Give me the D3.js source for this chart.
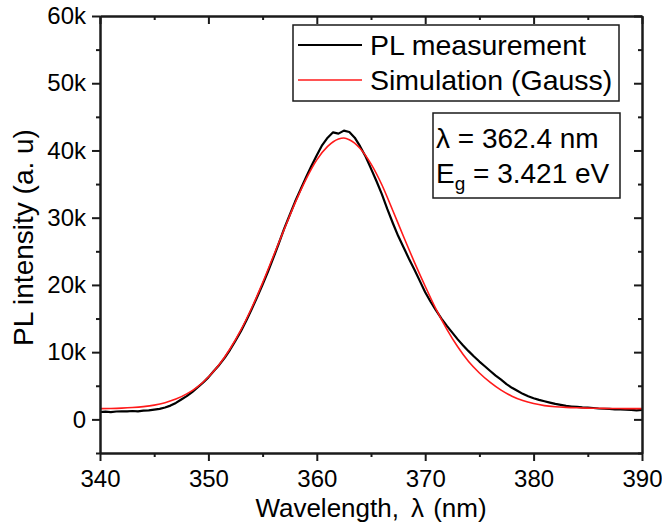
<!DOCTYPE html>
<html>
<head>
<meta charset="utf-8">
<script src="https://cdn.jsdelivr.net/npm/d3@7"></script>
<style>
  body { margin: 0; background: #fff; }
  text { font-family: "Liberation Sans", Arial, sans-serif; fill: #000; }
</style>
</head>
<body>
<script>
// measured PL spectrum (wavelength in nm, intensity in counts)
var measWavelength = [340, 340.5, 341, 341.5, 342, 342.5, 343, 343.5, 344, 344.5,
  345, 345.5, 346, 346.5, 347, 347.5, 348, 348.5, 349, 349.5,
  350, 350.5, 351, 351.5, 352, 352.5, 353, 353.5, 354, 354.5,
  355, 355.5, 356, 356.5, 357, 357.5, 358, 358.5, 359, 359.5,
  360, 360.5, 361, 361.5, 362, 362.5, 363, 363.5, 364, 364.5,
  365, 365.5, 366, 366.5, 367, 367.5, 368, 368.5, 369, 369.5,
  370, 370.5, 371, 371.5, 372, 372.5, 373, 373.5, 374, 374.5,
  375, 375.5, 376, 376.5, 377, 377.5, 378, 378.5, 379, 379.5,
  380, 380.5, 381, 381.5, 382, 382.5, 383, 383.5, 384, 384.5,
  385, 385.5, 386, 386.5, 387, 387.5, 388, 388.5, 389, 389.5, 390];
var measIntensity = [1100, 1150, 1080, 1170, 1210, 1180, 1250, 1200, 1290, 1340,
  1450, 1560, 1760, 2050, 2450, 2950, 3450, 4050, 4750, 5450,
  6250, 7200, 8100, 9150, 10350, 11700, 13100, 14700, 16400, 18200,
  20050, 22000, 24050, 26200, 28400, 30400, 32400, 34200, 36000, 37700,
  39300, 40800, 41900, 42700, 42500, 42950, 42750, 41900, 40600, 39100,
  37300, 35450, 33500, 31300, 29250, 27300, 25600, 23900, 22300, 20600,
  18900, 17500, 16200, 15000, 13900, 12900, 11900, 11000, 10150, 9350,
  8600, 7900, 7200, 6500, 5900, 5250, 4700, 4250, 3800, 3450,
  3150, 2900, 2700, 2500, 2300, 2150, 2000, 1920, 1850, 1780,
  1740, 1690, 1620, 1580, 1550, 1500, 1480, 1450, 1420, 1350, 1400];

// Gauss simulation
var simWavelength = [340, 341, 342, 343, 344, 345, 346, 347, 348, 349,
  350, 351, 352, 353, 354, 355, 356, 357, 358, 359,
  360, 361, 362, 362.5, 363, 364, 365, 366, 367, 368, 369,
  370, 371, 372, 373, 374, 375, 376, 377, 378, 379,
  380, 381, 382, 383, 384, 385, 386, 387, 388, 389, 390];
var simIntensity = [1600, 1620, 1670, 1760, 1900, 2120, 2480, 3020, 3800, 4850,
  6300, 8150, 10500, 13300, 16600, 20300, 24300, 28300, 32200, 35700,
  38600, 40600, 41700, 41850, 41600, 40300, 38000, 34900, 31100, 27200, 23400,
  19800, 16400, 13400, 10800, 8600, 6900, 5500, 4350, 3450, 2800,
  2350, 2050, 1880, 1780, 1720, 1680, 1650, 1620, 1610, 1600, 1600];

var xMajor = [340, 350, 360, 370, 380, 390];
var xMinor = [345, 355, 365, 375, 385];
var yMajor = [0, 10000, 20000, 30000, 40000, 50000, 60000];
var yMinor = [-5000, 5000, 15000, 25000, 35000, 45000, 55000];
var legendLabels = ["PL measurement", "Simulation (Gauss)"];
var legendColors = ["#000000", "#ff1a1a"];

// set the dimensions and margins of the graph
var margin = { top: 16, right: 20, bottom: 73, left: 100 },
    width = 662 - margin.left - margin.right,
    height = 526 - margin.top - margin.bottom;

var x = d3.scaleLinear().domain([340, 390]).range([0, width]);
var y = d3.scaleLinear().domain([-5000, 60000]).range([height, 0]);

var svg = d3.select("body").append("svg")
    .attr("width", 662)
    .attr("height", 526)
    .append("g")
    .attr("transform", "translate(" + margin.left + "," + margin.top + ")");

var fmtY = function (d) { return d === 0 ? "0" : (d / 1000) + "k"; };

function styleAxis(g) {
    g.select(".domain").attr("stroke", "#1a1a1a").attr("stroke-width", 2);
    g.selectAll(".tick line").attr("stroke", "#1a1a1a").attr("stroke-width", 2);
    g.selectAll(".tick text").style("font-size", "24px").attr("fill", "#000");
}

// curves
var line = d3.line()
    .x(function (d) { return x(d[0]); })
    .y(function (d) { return y(d[1]); });

svg.append("path")
    .datum(measWavelength.map(function (w, i) { return [w, measIntensity[i]]; }))
    .attr("fill", "none")
    .attr("stroke", legendColors[0])
    .attr("stroke-width", 2.2)
    .attr("stroke-linejoin", "round")
    .attr("d", line);

svg.append("path")
    .datum(simWavelength.map(function (w, i) { return [w, simIntensity[i]]; }))
    .attr("fill", "none")
    .attr("stroke", legendColors[1])
    .attr("stroke-width", 1.6)
    .attr("d", line.curve(d3.curveMonotoneX));

// bottom axis (outward ticks)
svg.append("g")
    .attr("transform", "translate(0," + height + ")")
    .call(d3.axisBottom(x).tickValues(xMajor).tickSize(8).tickSizeOuter(0).tickPadding(9))
    .call(styleAxis);
svg.append("g")
    .attr("transform", "translate(0," + height + ")")
    .call(d3.axisBottom(x).tickValues(xMinor).tickSize(4).tickSizeOuter(0).tickFormat(""))
    .call(styleAxis);

// top axis (inward ticks)
svg.append("g")
    .call(d3.axisBottom(x).tickValues(xMajor).tickSize(8).tickSizeOuter(0).tickFormat(""))
    .call(styleAxis);
svg.append("g")
    .call(d3.axisBottom(x).tickValues(xMinor).tickSize(4).tickSizeOuter(0).tickFormat(""))
    .call(styleAxis);

// left axis (outward ticks)
svg.append("g")
    .call(d3.axisLeft(y).tickValues(yMajor).tickSize(8).tickSizeOuter(0).tickPadding(6).tickFormat(fmtY))
    .call(styleAxis);
svg.append("g")
    .call(d3.axisLeft(y).tickValues(yMinor).tickSize(4).tickSizeOuter(0).tickFormat(""))
    .call(styleAxis);

// right axis (inward ticks)
svg.append("g")
    .attr("transform", "translate(" + width + ",0)")
    .call(d3.axisLeft(y).tickValues(yMajor).tickSize(8).tickSizeOuter(0).tickFormat(""))
    .call(styleAxis);
svg.append("g")
    .attr("transform", "translate(" + width + ",0)")
    .call(d3.axisLeft(y).tickValues(yMinor).tickSize(4).tickSizeOuter(0).tickFormat(""))
    .call(styleAxis);

// axis titles
var xTitle = svg.append("text")
    .attr("x", width / 2)
    .attr("y", height + 64)
    .attr("text-anchor", "middle")
    .style("font-size", "26px");
xTitle.append("tspan").text("Wavelength,");
xTitle.append("tspan").attr("dx", 12).text("λ");
xTitle.append("tspan").attr("dx", 2).text(" (nm)");

svg.append("text")
    .attr("transform", "translate(-67," + (height / 2 + 3) + ") rotate(-90)")
    .attr("text-anchor", "middle")
    .style("font-size", "28px")
    .text("PL intensity (a. u)");

// legend
var legend = svg.append("g").attr("transform", "translate(193,9)");
legend.append("rect")
    .attr("width", 326).attr("height", 76)
    .attr("fill", "#fff").attr("stroke", "#1a1a1a").attr("stroke-width", 1.5);
legendLabels.forEach(function (lab, i) {
    var yy = 20 + i * 35;
    legend.append("line")
        .attr("x1", 5).attr("x2", 69).attr("y1", yy).attr("y2", yy)
        .attr("stroke", legendColors[i]).attr("stroke-width", i === 0 ? 2.2 : 1.6);
    legend.append("text")
        .attr("x", 77).attr("y", yy + 10)
        .style("font-size", "28.5px")
        .text(lab);
});

// peak annotation
var note = svg.append("g").attr("transform", "translate(333,97)");
note.append("rect")
    .attr("width", 187).attr("height", 85)
    .attr("fill", "#fff").attr("stroke", "#1a1a1a").attr("stroke-width", 1.5);
note.append("text")
    .attr("x", 3).attr("y", 35)
    .style("font-size", "28px")
    .text("λ = 362.4 nm");
var eg = note.append("text")
    .attr("x", 3).attr("y", 70)
    .style("font-size", "28px");
eg.append("tspan").text("E");
eg.append("tspan").attr("dy", 7).style("font-size", "19px").text("g");
eg.append("tspan").attr("dy", -7).text(" = 3.421 eV");
</script>
</body>
</html>
